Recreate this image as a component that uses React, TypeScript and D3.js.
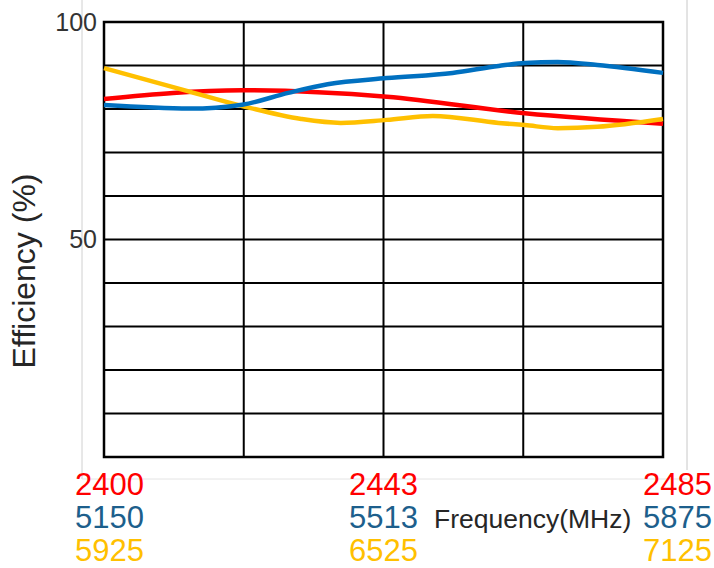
import React from 'react';
import * as d3 from 'd3';

// 2.4 GHz band positions (MHz) and efficiency (%) for each band curve
const redFreq = [2400, 2421, 2443, 2464, 2485];
const redEff = [82.3, 84.3, 82.8, 79, 76.6];

const blueFreq = [2400, 2413, 2421, 2428, 2434, 2443, 2453, 2460, 2464, 2469, 2475, 2485];
const blueEff = [80.9, 80.1, 81, 83.7, 85.7, 87.1, 88.3, 89.9, 90.6, 90.8, 90.1, 88.3];

const goldFreq = [2400, 2413, 2421, 2430, 2436, 2443, 2450, 2460, 2464, 2469, 2475, 2485];
const goldEff = [89.4, 84, 80.7, 77.7, 76.8, 77.5, 78.4, 76.8, 76.3, 75.6, 75.9, 77.7];

// bottom labels, one row per band
const redTicks = ['2400', '2443', '2485'];
const blueTicks = ['5150', '5513', '5875'];
const goldTicks = ['5925', '6525', '7125'];

const yLabels = [50, 100];
const xGrid = [2400, 2421.25, 2442.5, 2463.75, 2485];

const W = 714;
const H = 568;
const margin = { left: 104, right: 51, top: 22, bottom: 111 };

const RED = '#ff0000';
const BLUE = '#0070c0';
const BLUE_TEXT = '#1d5f8c';
const GOLD = '#ffc000';
const FONT = 'Liberation Sans, Arial, sans-serif';

export default function App() {
  const x = d3.scaleLinear().domain([2400, 2485]).range([margin.left, W - margin.right]);
  const y = d3.scaleLinear().domain([0, 100]).range([H - margin.bottom, margin.top]);

  const line = d3
    .line<[number, number]>()
    .x(d => x(d[0]))
    .y(d => y(d[1]))
    .curve(d3.curveMonotoneX);

  const series = [
    { color: RED, pts: redFreq.map((f, i) => [f, redEff[i]] as [number, number]) },
    { color: GOLD, pts: goldFreq.map((f, i) => [f, goldEff[i]] as [number, number]) },
    { color: BLUE, pts: blueFreq.map((f, i) => [f, blueEff[i]] as [number, number]) },
  ];

  const yGrid = d3.range(0, 101, 10);
  const rows = [
    { labels: redTicks, color: RED, yb: 495 },
    { labels: blueTicks, color: BLUE_TEXT, yb: 528 },
    { labels: goldTicks, color: GOLD, yb: 561 },
  ];
  const [x0, x1] = x.range();

  return (
    <svg
      width={W}
      height={H}
      style={{ position: 'absolute', left: 0, top: 0, background: '#fff' }}
      fontFamily={FONT}
    >
      {/* light frame behind the chart */}
      <line x1={82} x2={82} y1={0} y2={479} stroke="#d0d0d0" strokeWidth={1} />
      <line x1={82} x2={687} y1={479} y2={479} stroke="#e4e4e4" strokeWidth={1} />
      <line x1={687} x2={687} y1={0} y2={470} stroke="#c8c8c8" strokeWidth={1} />

      {yGrid.map(v => (
        <line key={'h' + v} x1={x0} x2={x1} y1={y(v)} y2={y(v)} stroke="#000" strokeWidth={2} />
      ))}
      {xGrid.map(v => (
        <line key={'v' + v} x1={x(v)} x2={x(v)} y1={y(0)} y2={y(100)} stroke="#000" strokeWidth={2} />
      ))}
      <rect
        x={x0}
        y={y(100)}
        width={x1 - x0}
        height={y(0) - y(100)}
        fill="none"
        stroke="#000"
        strokeWidth={2.5}
      />

      {series.map(s => (
        <path key={s.color} d={line(s.pts) || ''} fill="none" stroke={s.color} strokeWidth={4.5} />
      ))}

      {yLabels.map(v => (
        <text key={v} x={97} y={y(v)} dy="0.35em" textAnchor="end" fontSize={25} fill="#333">
          {v}
        </text>
      ))}

      <text
        transform={`translate(35,271) rotate(-90)`}
        textAnchor="middle"
        fontSize={32}
        fill="#262626"
      >
        Efficiency (%)
      </text>

      {rows.map(r => (
        <g key={r.color} fontSize={31} fill={r.color}>
          <text x={75} y={r.yb}>{r.labels[0]}</text>
          <text x={x(2442.5)} y={r.yb} textAnchor="middle">{r.labels[1]}</text>
          <text x={712} y={r.yb} textAnchor="end">{r.labels[2]}</text>
        </g>
      ))}

      <text x={434} y={528} fontSize={26.5} fill="#262626">
        Frequency(MHz)
      </text>
    </svg>
  );
}
